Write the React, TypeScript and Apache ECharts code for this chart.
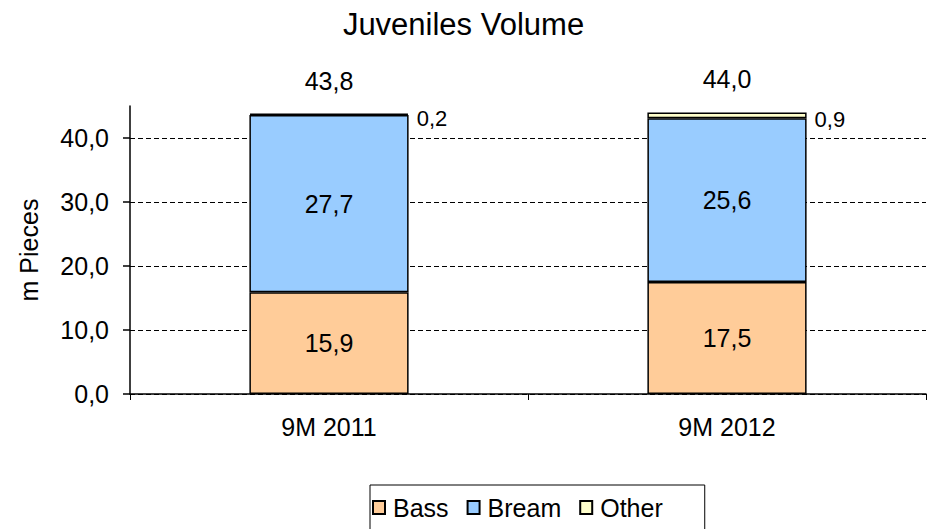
import React, { useEffect, useRef } from "react";
import * as echarts from "echarts";

const categories = ["9M 2011", "9M 2012"];
const bass = [15.9, 17.5];
const bream = [27.7, 25.6];
const other = [0.2, 0.9];
const totals = [43.8, 44.0];
const yTicks = [0, 10, 20, 30, 40];

const fmt = (v: number) => v.toFixed(1).replace(".", ",");
const FONT = "'Liberation Sans', Arial, sans-serif";

export default function App() {
  const ref = useRef<HTMLDivElement>(null);
  useEffect(() => {
    if (!ref.current) return;
    const chart = echarts.init(ref.current, null, { renderer: "svg" });
    const border = { borderColor: "#000", borderWidth: 1.5 };
    const inLabel = {
      show: true,
      position: "inside",
      fontFamily: FONT,
      fontSize: 25,
      color: "#000",
      formatter: (p: any) => fmt(p.value),
    };
    chart.setOption({
      animation: false,
      textStyle: { fontFamily: FONT, color: "#000" },
      title: {
        text: "Juveniles Volume",
        left: "center",
        top: 4,
        textStyle: { fontFamily: FONT, fontSize: 31, fontWeight: "normal", color: "#000" },
      },
      legend: {
        data: ["Bass", "Bream", "Other"],
        left: 370,
        top: 485,
        orient: "horizontal",
        icon: "rect",
        itemWidth: 12,
        itemHeight: 13,
        itemGap: 18,
        borderColor: "#000",
        borderWidth: 1,
        padding: [10, 42, 12, 2],
        textStyle: { fontFamily: FONT, fontSize: 25, color: "#000", padding: [0, 0, 0, 3] },
      },
      grid: { left: 130, right: 1, top: 106, bottom: 135, containLabel: false },
      xAxis: {
        type: "category",
        data: categories,
        axisLine: { lineStyle: { color: "#000", width: 1.5 } },
        axisTick: { show: true, alignWithLabel: false, length: 6, lineStyle: { color: "#000" } },
        axisLabel: { fontFamily: FONT, fontSize: 25, color: "#000", margin: 20 },
      },
      yAxis: {
        type: "value",
        min: 0,
        max: 45,
        interval: 10,
        name: "m Pieces",
        nameLocation: "middle",
        nameGap: 89,
        nameRotate: 90,
        nameTextStyle: { fontFamily: FONT, fontSize: 25, color: "#000" },
        axisLine: { show: true, lineStyle: { color: "#000", width: 1.5 } },
        axisTick: { show: true, length: 7, lineStyle: { color: "#000", width: 1.5 }, customValues: yTicks },
        axisLabel: {
          fontFamily: FONT,
          fontSize: 25,
          color: "#000",
          margin: 21,
          customValues: yTicks,
          formatter: (v: number) => fmt(v),
        },
        splitLine: { show: true, lineStyle: { color: "#000", width: 1, type: [5, 3] } },
      },
      series: [
        {
          name: "Bass",
          type: "bar",
          stack: "t",
          barWidth: "40%",
          data: bass,
          itemStyle: { color: "#FFCC99", ...border },
          label: inLabel,
        },
        {
          name: "Bream",
          type: "bar",
          stack: "t",
          data: bream,
          itemStyle: { color: "#99CCFF", ...border },
          label: inLabel,
        },
        {
          name: "Other",
          type: "bar",
          stack: "t",
          data: other,
          itemStyle: { color: "#FFFFCC", borderColor: "#000", borderWidth: 1.5 },
          label: {
            show: true,
            position: "right",
            distance: 8,
            offset: [0, 4],
            fontFamily: FONT,
            fontSize: 22,
            color: "#000",
            formatter: (p: any) => fmt(p.value),
          },
        },
        {
          name: "Total",
          type: "scatter",
          data: totals,
          symbolSize: 1,
          silent: true,
          itemStyle: { opacity: 1, color: "rgba(0,0,0,0)" },
          label: {
            show: true,
            position: "top",
            distance: 20,
            fontFamily: FONT,
            fontSize: 25,
            color: "#000",
            formatter: (p: any) => fmt(p.value),
          },
        },
      ],
    });
    return () => chart.dispose();
  }, []);
  return <div ref={ref} style={{ width: 927, height: 529, position: "absolute", left: 0, top: 0 }} />;
}
